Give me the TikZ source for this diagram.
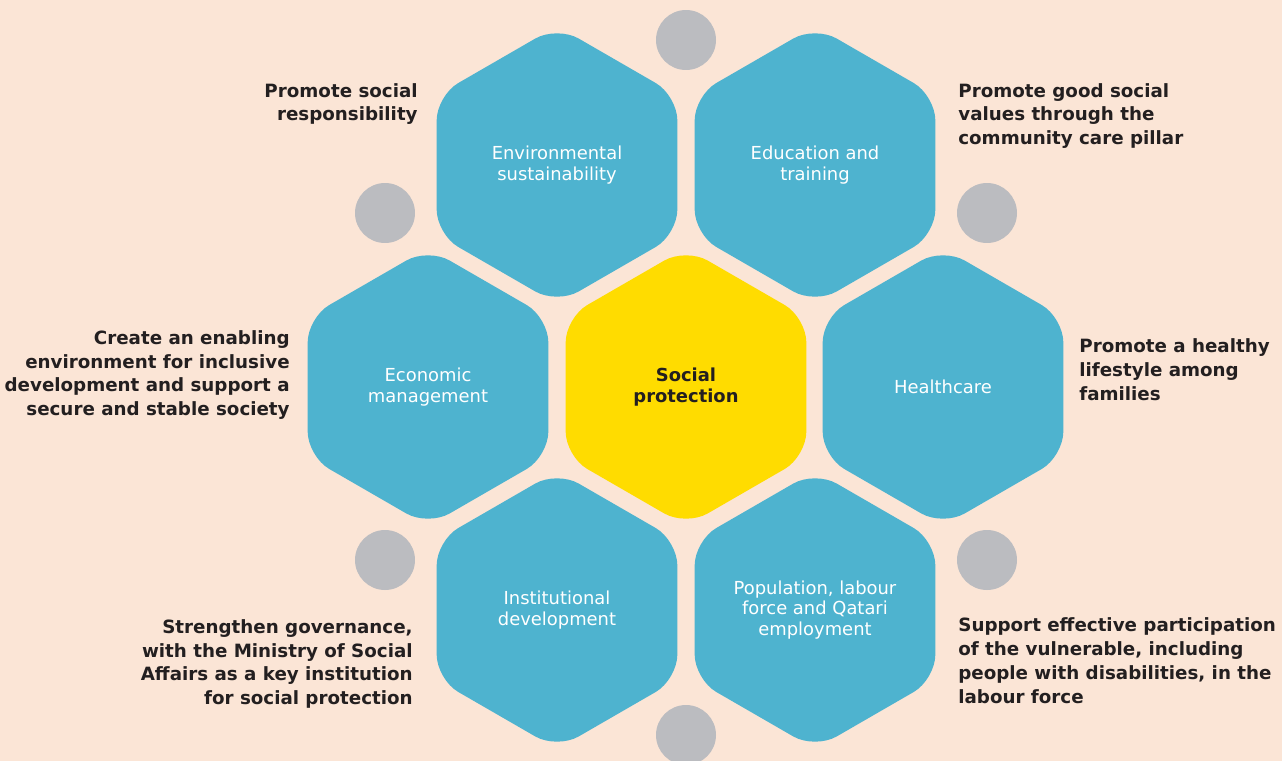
\documentclass[tikz,border=0pt]{standalone}
\usepackage{fontspec}
\setmainfont{DejaVu Sans}
\usepackage{tikz}
\usetikzlibrary{shapes.geometric,positioning}
\definecolor{peachBg}{RGB}{251,229,214}
\definecolor{hexBlue}{RGB}{78,179,207}
\definecolor{hexYellow}{RGB}{255,220,0}
\definecolor{dotGray}{RGB}{187,188,192}
\definecolor{inkDark}{RGB}{35,31,32}
\begin{document}
\begin{tikzpicture}[x=0.02cm,y=-0.02cm,
    hexcell/.style={regular polygon, regular polygon sides=6, shape border rotate=30,
      minimum size=5.56cm, inner sep=0pt, fill=hexBlue, rounded corners=0.5cm,
      text=white, align=center, font=\fontsize{10.2}{11.9}\selectfont},
    dot/.style={circle, fill=dotGray, minimum size=1.2cm, inner sep=0pt},
    aim/.style={text=inkDark, font=\fontsize{10.4}{13.6}\selectfont\bfseries, inner sep=0pt}]
        % --- background ---
        \fill[peachBg] (0,0) rectangle (1282,761);
        \useasboundingbox (0,0) rectangle (1282,761);
        % --- grey dots ---
        \node[dot] (dtop) at (686,40) {};
        \node[dot] (dnw) at (385,213) {};
        \node[dot] (dne) at (987,213) {};
        \node[dot] (dsw) at (385,560) {};
        \node[dot] (dse) at (987,560) {};
        \node[dot] (dbot) at (686,735) {};
        % --- hexagons ---
        \node[hexcell] (env) at (557,165) {Environmental\\sustainability};
        \node[hexcell] (edu) at (815,165) {Education and\\training};
        \node[hexcell] (eco) at (428,387) {Economic\\management};
        \node[hexcell, fill=hexYellow, text=inkDark, font=\fontsize{10.2}{12}\selectfont\bfseries]
          (core) at (686,387) {Social\\protection};
        \node[hexcell] (health) at (943,387) {Healthcare};
        \node[hexcell] (inst) at (557,610) {Institutional\\development};
        \node[hexcell] (pop) at (815,610) {Population, labour\\force and Qatari\\employment};
        % --- aims ---
        \node[aim, anchor=east, align=right] (aenv) at (418,104)
          {Promote social\\responsibility};
        \node[aim, anchor=west, align=left] (aedu) at (958,116)
          {Promote good social\\values through the\\community care pillar};
        \node[aim, anchor=east, align=right] (aeco) at (290,375)
          {Create an enabling\\environment for inclusive\\development and support a\\secure and stable society};
        \node[aim, anchor=west, align=left] (ahealth) at (1079,370)
          {Promote a healthy\\lifestyle among\\families};
        \node[aim, anchor=east, align=right] (ainst) at (413,664)
          {Strengthen governance,\\with the Ministry of Social\\Affairs as a key institution\\for social protection};
        \node[aim, anchor=west, align=left] (apop) at (958,661)
          {Support effective participation\\of the vulnerable, including\\people with disabilities, in the\\labour force};
      \end{tikzpicture}
\end{document}
